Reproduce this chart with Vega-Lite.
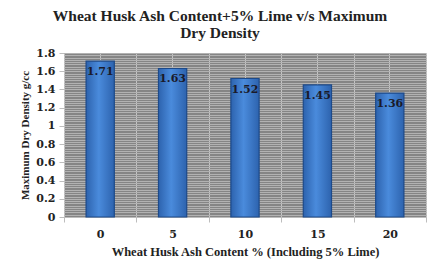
{
  "$schema": "https://vega.github.io/schema/vega-lite/v6.json",
  "width": 362,
  "height": 164,
  "autosize": {"type": "none"},
  "padding": {"left": 64, "top": 53, "right": 15, "bottom": 57},
  "background": "white",
  "title": {
    "text": ["Wheat Husk Ash Content+5% Lime v/s Maximum", "Dry Density"],
    "font": "Liberation Serif",
    "fontSize": 15.5,
    "fontWeight": "bold",
    "color": "#222222",
    "lineHeight": 17,
    "anchor": "middle",
    "dx": -25,
    "offset": 6
  },
  "data": {
    "values": [
      {"ash": 0, "mdd": 1.71},
      {"ash": 5, "mdd": 1.63},
      {"ash": 10, "mdd": 1.52},
      {"ash": 15, "mdd": 1.45},
      {"ash": 20, "mdd": 1.36}
    ]
  },
  "config": {
    "view": {"fill": "#858585", "stroke": null},
    "axis": {
      "labelFont": "DejaVu Serif",
      "titleFont": "Liberation Serif",
      "labelFontWeight": "bold",
      "titleFontWeight": "bold",
      "labelColor": "#222222",
      "titleColor": "#222222"
    }
  },
  "resolve": {"axis": {"x": "independent", "y": "independent"}},
  "layer": [
    {
      "mark": {
        "type": "bar",
        "width": {"band": 0.39},
        "stroke": "#1d4a8a",
        "strokeWidth": 1.2,
        "color": {
          "gradient": "linear",
          "x1": 0, "x2": 1, "y1": 0, "y2": 0,
          "stops": [
            {"offset": 0, "color": "#2d63ae"},
            {"offset": 0.45, "color": "#4a8bdc"},
            {"offset": 1, "color": "#2d63ae"}
          ]
        }
      },
      "encoding": {
        "x": {
          "field": "ash",
          "type": "ordinal",
          "scale": {"paddingInner": 0, "paddingOuter": 0},
          "axis": {
            "orient": "bottom",
            "tickBand": "extent",
            "grid": true,
            "gridColor": "#c4c4c4",
            "gridWidth": 1,
            "domainColor": "#bdbdbd",
            "tickColor": "#bdbdbd",
            "tickSize": 5,
            "labelAngle": 0,
            "labelFontSize": 11,
            "labelPadding": 6,
            "title": "Wheat Husk Ash Content % (Including 5% Lime)",
            "titleFontSize": 12.5,
            "titlePadding": 6
          }
        },
        "y": {
          "field": "mdd",
          "type": "quantitative",
          "scale": {"domain": [0, 1.8], "nice": false},
          "axis": {
            "orient": "left",
            "values": [0, 0.2, 0.4, 0.6, 0.8, 1, 1.2, 1.4, 1.6, 1.8],
            "format": "~g",
            "grid": false,
            "domain": false,
            "tickColor": "#bdbdbd",
            "tickSize": 5,
            "labelFontSize": 11,
            "labelPadding": 4,
            "title": "Maximum Dry Density g/cc",
            "titleFontSize": 11,
            "titlePadding": 5
          }
        }
      }
    },
    {
      "mark": {
        "type": "text",
        "baseline": "top",
        "dy": 5,
        "font": "DejaVu Serif",
        "fontWeight": "bold",
        "fontSize": 11,
        "color": "#1a1a2a"
      },
      "encoding": {
        "x": {
          "field": "ash",
          "type": "ordinal",
          "axis": {
            "orient": "top",
            "grid": true,
            "gridColor": "#c4c4c4",
            "labels": false,
            "ticks": false,
            "domain": false,
            "title": null
          }
        },
        "y": {
          "field": "mdd",
          "type": "quantitative",
          "axis": {
            "orient": "right",
            "values": [0, 0.025, 0.05, 0.075, 0.1, 0.125, 0.15, 0.175, 0.2, 0.225, 0.25, 0.275, 0.3, 0.325, 0.35, 0.375, 0.4, 0.425, 0.45, 0.475, 0.5, 0.525, 0.55, 0.575, 0.6, 0.625, 0.65, 0.675, 0.7, 0.725, 0.75, 0.775, 0.8, 0.825, 0.85, 0.875, 0.9, 0.925, 0.95, 0.975, 1, 1.025, 1.05, 1.075, 1.1, 1.125, 1.15, 1.175, 1.2, 1.225, 1.25, 1.275, 1.3, 1.325, 1.35, 1.375, 1.4, 1.425, 1.45, 1.475, 1.5, 1.525, 1.55, 1.575, 1.6, 1.625, 1.65, 1.675, 1.7, 1.725, 1.75, 1.775, 1.8],
            "grid": true,
            "gridColor": "#b2b2b2",
            "gridWidth": 1,
            "labels": false,
            "ticks": false,
            "domain": false,
            "title": null
          }
        },
        "text": {"field": "mdd", "type": "quantitative", "format": ".2f"}
      }
    }
  ]
}
